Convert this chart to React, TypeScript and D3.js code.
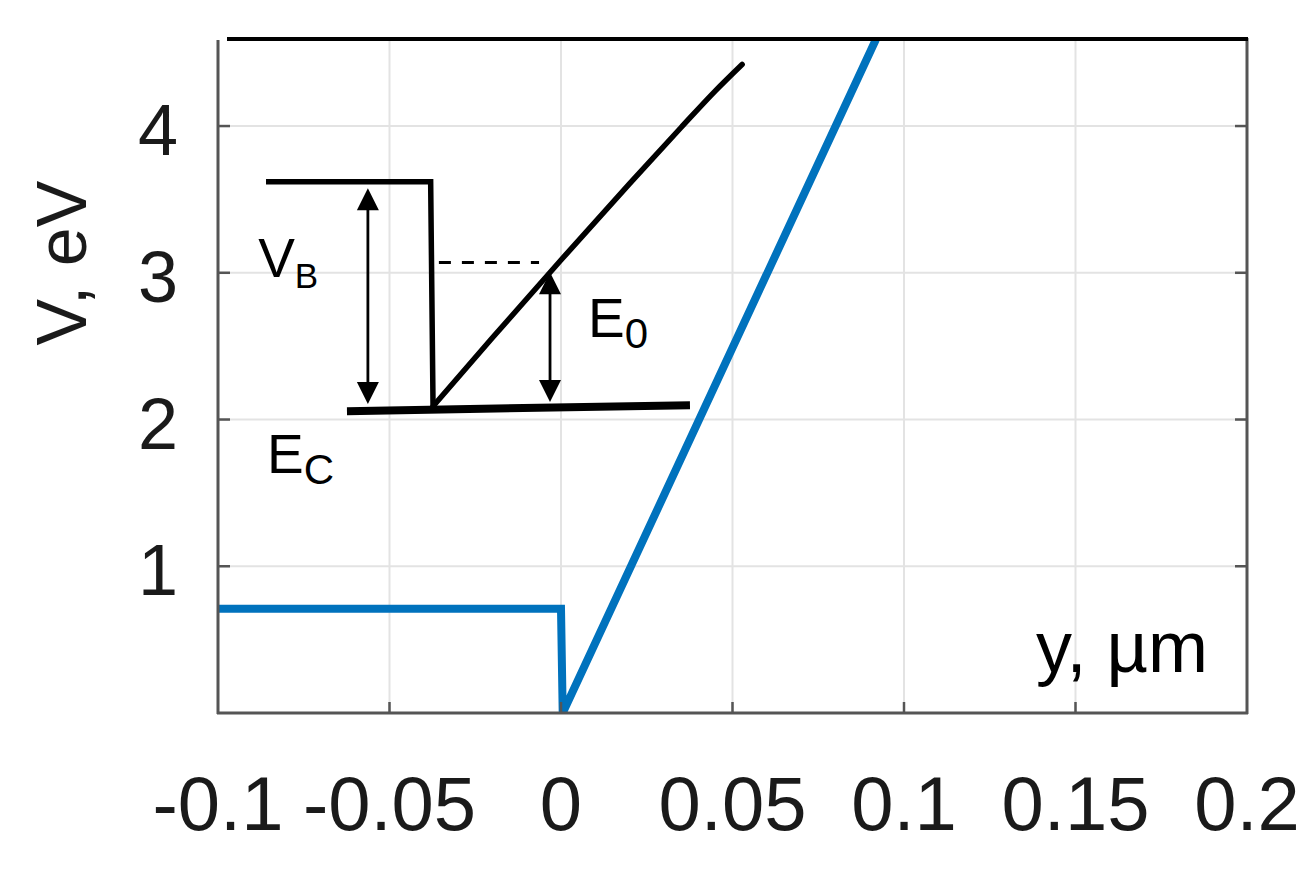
import React, { useEffect, useRef } from 'react';
import * as d3 from 'd3';

// axis ticks
const xTicks = [-0.1, -0.05, 0, 0.05, 0.1, 0.15, 0.2];
const xTickLabels = ['-0.1', '-0.05', '0', '0.05', '0.1', '0.15', '0.2'];
const xGrid = [-0.05, 0, 0.05, 0.1, 0.15];
const yTicks = [1, 2, 3, 4];
const yTickLabels = ['1', '2', '3', '4'];

// blue potential profile V(y)
const blueX = [-0.1, 0, 0.0005, 0.0918];
const blueV = [0.71, 0.71, 0, 4.59];

// black band diagram: barrier top + drop
const barrierX = [-0.086, -0.038, -0.0373];
const barrierV = [3.62, 3.62, 2.08];
// rising conduction band edge
const rampX = [-0.0373, -0.02, 0, 0.02, 0.035, 0.045, 0.0528];
const rampV = [2.09, 2.557, 3.087, 3.607, 3.99, 4.24, 4.42];
// E_C line
const ecX = [-0.0624, 0.0376];
const ecV = [2.057, 2.098];
// dashed level E_0
const dashX = [-0.0356, -0.0064];
const dashV = [3.07, 3.07];
// double arrows: [x, top V, bottom V]
const vbArrow = [-0.0563, 3.576, 2.105];
const e0Arrow = [-0.0032, 3.004, 2.119];

// annotation labels
const labelMain = ['V', 'E', 'E'];
const labelSub = ['B', 'C', '0'];
const labelX = [-0.0883, -0.0857, 0.0079];
const labelV = [2.97, 1.635, 2.561];
const labelSubSize = [35, 42, 42];

const FONT = '"Liberation Sans", Arial, Helvetica, sans-serif';

export default function App() {
  const ref = useRef<SVGSVGElement | null>(null);

  useEffect(() => {
    const svg = d3.select(ref.current);
    svg.selectAll('*').remove();

    const x = d3.scaleLinear().domain([-0.1, 0.2]).range([218, 1247]);
    const y = d3.scaleLinear().domain([0, 4.6]).range([713, 38]);
    const [x0, x1] = x.range();
    const [yb, yt] = y.range();

    svg.append('defs').append('clipPath').attr('id', 'plotclip')
      .append('rect')
      .attr('x', x0).attr('y', yt + 1)
      .attr('width', x1 - x0).attr('height', yb - yt - 1);

    // grid
    const grid = svg.append('g').attr('stroke', '#e3e3e3').attr('stroke-width', 2);
    xGrid.forEach(v => {
      grid.append('line').attr('x1', x(v)).attr('x2', x(v)).attr('y1', yt).attr('y2', yb);
    });
    yTicks.forEach(v => {
      grid.append('line').attr('x1', x0).attr('x2', x1).attr('y1', y(v)).attr('y2', y(v));
    });

    const line = d3.line<[number, number]>().x(d => x(d[0])).y(d => y(d[1]));
    const smooth = d3.line<[number, number]>().x(d => x(d[0])).y(d => y(d[1])).curve(d3.curveMonotoneX);
    const zip = (a: number[], b: number[]) => a.map((v, i) => [v, b[i]] as [number, number]);

    // blue
    svg.append('path')
      .attr('clip-path', 'url(#plotclip)')
      .attr('d', line(zip(blueX, blueV)))
      .attr('fill', 'none')
      .attr('stroke', '#0072BD')
      .attr('stroke-width', 8)
      .attr('stroke-linejoin', 'miter');

    // black band diagram
    svg.append('path')
      .attr('d', line(zip(barrierX, barrierV)))
      .attr('fill', 'none').attr('stroke', '#000').attr('stroke-width', 5.5);
    svg.append('path')
      .attr('d', smooth(zip(rampX, rampV)))
      .attr('fill', 'none').attr('stroke', '#000').attr('stroke-width', 5.5)
      .attr('stroke-linecap', 'round');
    svg.append('path')
      .attr('d', line(zip(ecX, ecV)))
      .attr('fill', 'none').attr('stroke', '#000').attr('stroke-width', 8);
    svg.append('path')
      .attr('d', line(zip(dashX, dashV)))
      .attr('fill', 'none').attr('stroke', '#000').attr('stroke-width', 3)
      .attr('stroke-dasharray', '12,11');

    // double arrows
    const arrow = (a: number[]) => {
      const ax = x(a[0]);
      const ty = y(a[1]);
      const by = y(a[2]);
      const hw = 11;
      const hl = 22;
      svg.append('line')
        .attr('x1', ax).attr('x2', ax).attr('y1', ty + hl - 2).attr('y2', by - hl + 2)
        .attr('stroke', '#000').attr('stroke-width', 2.8);
      svg.append('path')
        .attr('d', `M${ax},${ty}L${ax - hw},${ty + hl}L${ax + hw},${ty + hl}Z`)
        .attr('fill', '#000');
      svg.append('path')
        .attr('d', `M${ax},${by}L${ax - hw},${by - hl}L${ax + hw},${by - hl}Z`)
        .attr('fill', '#000');
    };
    arrow(vbArrow);
    arrow(e0Arrow);

    // axes frame
    const axisColor = '#555';
    svg.append('line').attr('x1', x0).attr('x2', x0).attr('y1', yt + 2).attr('y2', yb + 1)
      .attr('stroke', axisColor).attr('stroke-width', 3);
    svg.append('line').attr('x1', x1).attr('x2', x1).attr('y1', yt).attr('y2', yb + 1)
      .attr('stroke', axisColor).attr('stroke-width', 3);
    svg.append('line').attr('x1', x0 - 1).attr('x2', x1 + 1).attr('y1', yb).attr('y2', yb)
      .attr('stroke', axisColor).attr('stroke-width', 3);
    svg.append('line').attr('x1', x0 + 9).attr('x2', x1 + 1).attr('y1', yt + 1).attr('y2', yt + 1)
      .attr('stroke', '#000').attr('stroke-width', 4);

    // ticks (inward)
    const ticks = svg.append('g').attr('stroke', axisColor).attr('stroke-width', 2.5);
    yTicks.forEach(v => {
      ticks.append('line').attr('x1', x0).attr('x2', x0 + 12).attr('y1', y(v)).attr('y2', y(v));
      ticks.append('line').attr('x1', x1).attr('x2', x1 - 12).attr('y1', y(v)).attr('y2', y(v));
    });
    xGrid.forEach(v => {
      ticks.append('line').attr('x1', x(v)).attr('x2', x(v)).attr('y1', yb).attr('y2', yb - 11);
    });

    // tick labels
    const tl = svg.append('g').attr('font-family', FONT).attr('fill', '#1a1a1a');
    xTicks.forEach((v, i) => {
      tl.append('text')
        .attr('x', x(v)).attr('y', 830)
        .attr('text-anchor', 'middle')
        .attr('font-size', 76)
        .text(xTickLabels[i]);
    });
    yTicks.forEach((v, i) => {
      tl.append('text')
        .attr('x', 178).attr('y', y(v) + 29)
        .attr('text-anchor', 'end')
        .attr('font-size', 72)
        .text(yTickLabels[i]);
    });

    // axis titles
    svg.append('text')
      .attr('transform', 'translate(86,263) rotate(-90)')
      .attr('text-anchor', 'middle')
      .attr('font-family', FONT).attr('font-size', 70).attr('fill', '#1a1a1a')
      .text('V, eV');
    svg.append('text')
      .attr('x', 1208).attr('y', 672)
      .attr('text-anchor', 'end')
      .attr('font-family', FONT).attr('font-size', 72).attr('fill', '#000')
      .text('y, µm');

    // annotation labels
    labelMain.forEach((m, i) => {
      const t = svg.append('text')
        .attr('x', x(labelX[i])).attr('y', y(labelV[i]))
        .attr('font-family', FONT).attr('font-size', 55).attr('fill', '#000');
      t.append('tspan').text(m);
      t.append('tspan').attr('dy', 11).attr('font-size', labelSubSize[i]).text(labelSub[i]);
    });
  }, []);

  return (
    <svg
      ref={ref}
      width={1308}
      height={878}
      style={{ position: 'absolute', left: 0, top: 0, background: '#fff' }}
    />
  );
}
